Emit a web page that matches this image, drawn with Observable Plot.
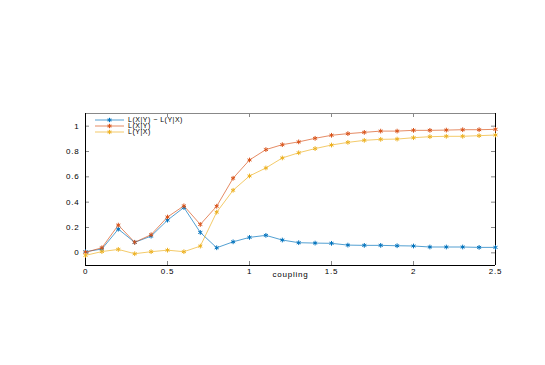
<!DOCTYPE html>
<html>
<head>
<meta charset="utf-8">
<script src="https://cdn.jsdelivr.net/npm/d3@7"></script>
<script src="https://cdn.jsdelivr.net/npm/@observablehq/plot@0.6"></script>
<style>
  html, body { margin: 0; padding: 0; background: #fff; }
  #wrap { position: relative; width: 545px; height: 365px; font-family: "Liberation Sans", Arial, sans-serif; }
  #legend { position: absolute; left: 95px; top: 116.5px; font-size: 7px; color: #000; letter-spacing: 0.5px; }
  #legend div { display: flex; align-items: center; height: 6.3px; line-height: 6.3px; white-space: nowrap; overflow: visible; }
  #legend svg { margin-right: 4px; flex: none; }
</style>
</head>
<body>
<div id="wrap"></div>
<script>
const coupling = [0,0.1,0.2,0.3,0.4,0.5,0.6,0.7,0.8,0.9,1.0,1.1,1.2,1.3,1.4,1.5,1.6,1.7,1.8,1.9,2.0,2.1,2.2,2.3,2.4,2.5];
const diffVals = [0.009,0.03,0.187,0.083,0.132,0.258,0.358,0.161,0.04,0.087,0.122,0.138,0.101,0.08,0.077,0.075,0.061,0.059,0.059,0.056,0.054,0.046,0.046,0.046,0.043,0.043];
const lxyVals  = [0.004,0.04,0.219,0.083,0.143,0.283,0.371,0.224,0.368,0.589,0.733,0.815,0.854,0.876,0.904,0.928,0.941,0.951,0.961,0.961,0.967,0.967,0.969,0.972,0.972,0.975];
const lyxVals  = [-0.02,0.01,0.027,-0.007,0.009,0.021,0.009,0.053,0.321,0.494,0.607,0.67,0.749,0.79,0.823,0.851,0.872,0.888,0.896,0.898,0.909,0.917,0.92,0.92,0.925,0.93];
const seriesNames = ["L(X|Y) \u2212 L(Y|X)", "L(X|Y)", "L(Y|X)"];
const seriesColors = ["#0072BD", "#D95319", "#EDB120"];
const xTicks = [0, 0.5, 1, 1.5, 2, 2.5];
const yTicks = [0, 0.2, 0.4, 0.6, 0.8, 1];
const xLabel = "coupling";

const allVals = [diffVals, lxyVals, lyxVals];
const data = [];
allVals.forEach((vals, s) => vals.forEach((v, i) => data.push({x: coupling[i], y: v, s: seriesNames[s]})));

const W = 545, H = 365;
const mL = 85, mR = 50, mT = 113, mB = 100;
const frameH = H - mT - mB, frameW = W - mL - mR;
const tk = 4;

const chart = Plot.plot({
  width: W, height: H,
  marginLeft: mL, marginRight: mR, marginTop: mT, marginBottom: mB,
  style: {fontFamily: "Liberation Sans, Arial, sans-serif", fontSize: "8px", background: "#fff", color: "#000", letterSpacing: "0.8px"},
  x: {domain: [0, 2.5]},
  y: {domain: [-0.1, 1.1]},
  color: {domain: seriesNames, range: seriesColors},
  marks: [
    Plot.tickX(xTicks, {x: d => d, insetTop: frameH - tk, stroke: "#555", strokeWidth: 0.7}),
    Plot.tickX(xTicks, {x: d => d, insetBottom: frameH - tk, stroke: "#555", strokeWidth: 0.7}),
    Plot.tickY(yTicks, {y: d => d, insetRight: frameW - tk, stroke: "#555", strokeWidth: 0.7}),
    Plot.tickY(yTicks, {y: d => d, insetLeft: frameW - tk, stroke: "#555", strokeWidth: 0.7}),
    Plot.ruleY([1.1], {stroke: "#888", strokeWidth: 1}),
    Plot.ruleY([-0.1], {stroke: "#000", strokeWidth: 1}),
    Plot.ruleX([0], {stroke: "#000", strokeWidth: 1}),
    Plot.ruleX([2.5], {stroke: "#000", strokeWidth: 1}),
    Plot.axisX(xTicks, {tickSize: 0, tickPadding: 3, tickFormat: d => String(d), label: null}),
    Plot.axisY(yTicks, {tickSize: 0, tickPadding: 6, tickFormat: d => String(d), label: null}),
    Plot.text([xLabel], {frameAnchor: "bottom", dy: 11, text: d => d, fontSize: 8}),
    Plot.line(data, {x: "x", y: "y", z: "s", stroke: "s", strokeWidth: 0.8, strokeOpacity: 0.85}),
    Plot.dot(data, {x: "x", y: "y", stroke: "s", symbol: "asterisk", r: 2.2, strokeWidth: 1})
  ]
});

const wrap = document.getElementById("wrap");
wrap.appendChild(chart);

const legend = document.createElement("div");
legend.id = "legend";
seriesNames.forEach((name, i) => {
  const row = document.createElement("div");
  const c = seriesColors[i];
  row.innerHTML = `<svg width="29" height="6" viewBox="0 0 29 6"><line x1="0" x2="29" y1="3" y2="3" stroke="${c}" stroke-width="0.8" stroke-opacity="0.85"/><path d="M14.5,0.8V5.2M12.3,3H16.7M13,1.5L16,4.5M16,1.5L13,4.5" stroke="${c}" stroke-width="1"/></svg><span>${name}</span>`;
  legend.appendChild(row);
});
wrap.appendChild(legend);
</script>
</body>
</html>
